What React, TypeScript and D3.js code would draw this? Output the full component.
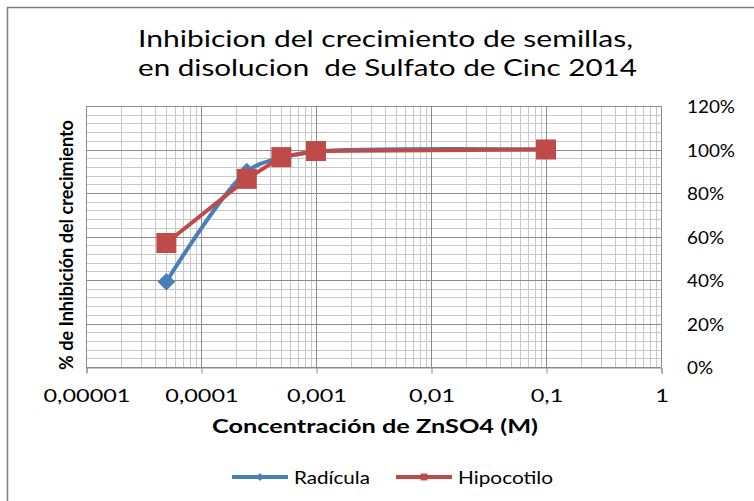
import React, { useEffect, useRef } from 'react';
import * as d3 from 'd3';

// concentrations (M)
const conc = [0.00005, 0.00025, 0.0005, 0.001, 0.1];
const radicula = [0.392, 0.898, 0.962, 0.99, 1.0];
const hipocotilo = [0.57, 0.865, 0.965, 0.993, 1.0];
const xTicks = [0.00001, 0.0001, 0.001, 0.01, 0.1, 1];
const xTickLabels = ['0,00001', '0,0001', '0,001', '0,01', '0,1', '1'];
const yTicks = [0, 0.2, 0.4, 0.6, 0.8, 1.0, 1.2];

const FONT = 'Lato, "Open Sans", sans-serif';

// the source picture is stretched sideways, so text is widened to the measured width
const stretch = (sel: any, factor: number) => {
  sel.each(function (this: SVGTextElement) {
    const w = this.getComputedTextLength();
    d3.select(this).attr('textLength', w * factor).attr('lengthAdjust', 'spacingAndGlyphs');
  });
};
const fitTo = (sel: any, target: number) => {
  sel.each(function (this: SVGTextElement) {
    const w = this.getComputedTextLength();
    stretch(d3.select(this), target / w);
  });
};

const App = () => {
  const svgRef = useRef<SVGSVGElement>(null);

  useEffect(() => {
    const width = 754;
    const height = 501;
    const left = 86, right = 661, top = 106, bottom = 367;

    const svg = d3.select(svgRef.current)
      .attr('width', width)
      .attr('height', height);
    svg.selectAll('*').remove();

    svg.append('rect')
      .attr('width', width).attr('height', height).attr('fill', '#fff');

    // outer chart frame
    svg.append('rect')
      .attr('x', 7.5).attr('y', 7.5)
      .attr('width', 800).attr('height', 600)
      .attr('fill', 'none').attr('stroke', '#7f7f7f').attr('stroke-width', 1.5);

    const x = d3.scaleLog().domain([0.00001, 1]).range([left, right]);
    const y = d3.scaleLinear().domain([0, 1.2]).range([bottom, top]);

    // minor vertical grid
    const minorX: number[] = [];
    for (let e = -5; e < 0; e++) {
      for (let m = 2; m <= 9; m++) minorX.push(m * Math.pow(10, e));
    }
    svg.append('g').selectAll('line').data(minorX).join('line')
      .attr('x1', d => Math.round(x(d)) + 0.5).attr('x2', d => Math.round(x(d)) + 0.5)
      .attr('y1', top).attr('y2', bottom)
      .attr('stroke', '#c8c8c8').attr('stroke-width', 1);

    // minor horizontal grid (every 4%)
    const minorY = d3.range(0, 1.2001, 0.04).filter((_, i) => i % 5 !== 0);
    svg.append('g').selectAll('line').data(minorY).join('line')
      .attr('x1', left).attr('x2', right)
      .attr('y1', d => Math.round(y(d)) + 0.5).attr('y2', d => Math.round(y(d)) + 0.5)
      .attr('stroke', '#c8c8c8').attr('stroke-width', 1);

    // major grid
    svg.append('g').selectAll('line').data(xTicks).join('line')
      .attr('x1', d => Math.round(x(d)) + 0.5).attr('x2', d => Math.round(x(d)) + 0.5)
      .attr('y1', top).attr('y2', bottom)
      .attr('stroke', '#8c8c8c').attr('stroke-width', 1);
    svg.append('g').selectAll('line').data(yTicks).join('line')
      .attr('x1', left).attr('x2', right)
      .attr('y1', d => Math.round(y(d)) + 0.5).attr('y2', d => Math.round(y(d)) + 0.5)
      .attr('stroke', '#8c8c8c').attr('stroke-width', 1);

    // x axis
    const xAxis = svg.append('g')
      .attr('transform', `translate(0.5, ${Math.round(bottom) + 0.5})`)
      .call(d3.axisBottom(x).tickValues(xTicks).tickSize(6).tickFormat((d, i) => xTickLabels[i]));
    xAxis.select('.domain').attr('stroke', '#8c8c8c');
    xAxis.selectAll('.tick line').attr('stroke', '#8c8c8c');
    const xLabels = xAxis.selectAll('.tick text')
      .attr('y', 34)
      .attr('dy', null)
      .attr('fill', '#000')
      .style('font-family', FONT)
      .style('font-size', '17px');
    const firstW = (xLabels.node() as SVGTextElement).getComputedTextLength();
    stretch(xLabels, 87 / firstW);

    // right y axis labels
    const yLabels = svg.append('g').selectAll('text').data(yTicks).join('text')
      .attr('x', 687).attr('y', d => y(d) + 7)
      .attr('font-family', FONT).attr('font-size', 18)
      .text(d => `${Math.round(d * 100)}%`);
    const topW = (yLabels.nodes()[6] as SVGTextElement).getComputedTextLength();
    stretch(yLabels, 48 / topW);

    // series
    const pts = (vals: number[]) => conc.map((c, i) => [x(c), y(vals[i])] as [number, number]);

    svg.append('path')
      .datum(pts(radicula))
      .attr('fill', 'none').attr('stroke', '#4a7ebb').attr('stroke-width', 4)
      .attr('d', d3.line().curve(d3.curveCatmullRom.alpha(0.5)));
    svg.append('g').selectAll('path').data(pts(radicula)).join('path')
      .attr('transform', d => `translate(${d[0]},${d[1]})`)
      .attr('d', d3.symbol(d3.symbolDiamond2, 200))
      .attr('fill', '#4a7ebb');

    svg.append('path')
      .datum(pts(hipocotilo))
      .attr('fill', 'none').attr('stroke', '#be4b48').attr('stroke-width', 4)
      .attr('d', d3.line());
    svg.append('g').selectAll('rect').data(pts(hipocotilo)).join('rect')
      .attr('x', d => d[0] - 10).attr('y', d => d[1] - 10)
      .attr('width', 20).attr('height', 20)
      .attr('fill', '#be4b48');

    // title
    const t1 = svg.append('text')
      .attr('x', 385.5).attr('y', 47).attr('text-anchor', 'middle')
      .attr('font-family', FONT).attr('font-size', 24)
      .text('Inhibicion del crecimiento de semillas,');
    fitTo(t1, 495);
    const t2 = svg.append('text')
      .attr('x', 387.5).attr('y', 76).attr('text-anchor', 'middle')
      .attr('font-family', FONT).attr('font-size', 24)
      .attr('xml:space', 'preserve')
      .style('white-space', 'pre')
      .text('en disolucion  de Sulfato de Cinc 2014');
    fitTo(t2, 499);

    // axis titles
    const xt = svg.append('text')
      .attr('x', 375).attr('y', 433)
      .attr('text-anchor', 'middle')
      .attr('font-family', FONT).attr('font-size', 18).attr('font-weight', 'bold')
      .text('Concentración de ZnSO4 (M)');
    fitTo(xt, 326);

    const yt = svg.append('text')
      .attr('transform', 'translate(73, 245) rotate(-90)')
      .attr('text-anchor', 'middle')
      .attr('font-family', FONT).attr('font-size', 18).attr('font-weight', 'bold')
      .text('% de Inhibición del crecimiento');
    fitTo(yt, 250);

    // legend
    const legend = [
      { name: 'Radícula', color: '#4a7ebb', x0: 232, w: 76, shape: 'diamond' },
      { name: 'Hipocotilo', color: '#be4b48', x0: 396, w: 95, shape: 'square' },
    ];
    const lg = svg.append('g').selectAll('g').data(legend).join('g')
      .attr('transform', d => `translate(${d.x0}, 477)`);
    lg.append('line')
      .attr('x1', 0).attr('x2', 56).attr('y1', 0).attr('y2', 0)
      .attr('stroke', d => d.color).attr('stroke-width', 4);
    lg.append('path')
      .attr('transform', 'translate(28,0)')
      .attr('d', d => d3.symbol(d.shape === 'diamond' ? d3.symbolDiamond2 : d3.symbolSquare2, d.shape === 'diamond' ? 40 : 60)())
      .attr('fill', d => d.color);
    lg.append('text')
      .attr('x', 62).attr('y', 7)
      .attr('font-family', FONT).attr('font-size', 17)
      .text(d => d.name)
      .each(function (this: SVGTextElement, d: any) {
        fitTo(d3.select(this), d.w);
      });
  }, []);

  return <svg ref={svgRef} style={{ display: 'block', position: 'absolute', left: 0, top: 0 }}></svg>;
};

export default App;
